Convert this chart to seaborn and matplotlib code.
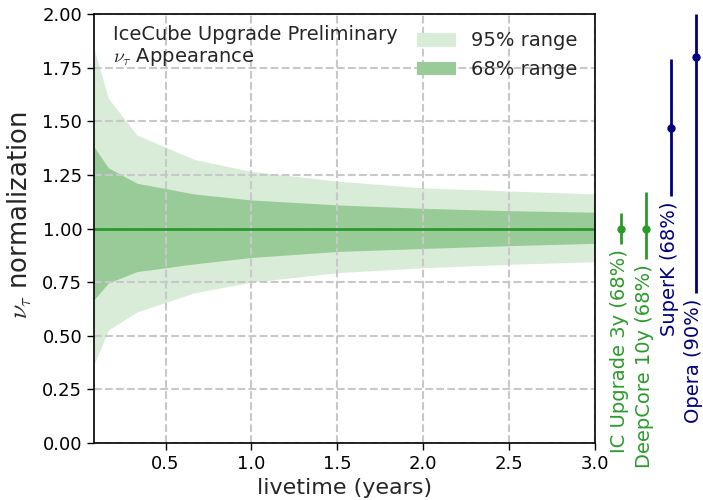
import matplotlib
matplotlib.use("Agg")
import numpy as np
import pandas as pd
import matplotlib.pyplot as plt
import seaborn as sns

# Expected sensitivity band for the nu_tau normalization vs. livetime
livetime = [1 / 12, 2 / 12, 4 / 12, 8 / 12, 1.0, 1.5, 2.0, 2.5, 3.0]
band95_hi = [1.84, 1.607, 1.436, 1.322, 1.266, 1.221, 1.189, 1.175, 1.161]
band95_lo = [0.364, 0.527, 0.611, 0.700, 0.750, 0.794, 0.817, 0.833, 0.845]
band68_hi = [1.381, 1.283, 1.211, 1.161, 1.133, 1.110, 1.094, 1.083, 1.076]
band68_lo = [0.668, 0.746, 0.799, 0.835, 0.865, 0.893, 0.907, 0.920, 0.931]
central = [1.0, 1.0, 1.0, 1.0, 1.0, 1.0, 1.0, 1.0, 1.0]

# Existing / projected measurements
experiments = ["IC Upgrade 3y (68%)", "DeepCore 10y (68%)", "SuperK (68%)", "Opera (90%)"]
exp_center = [1.0, 1.0, 1.47, 1.8]
exp_lo = [0.93, 0.857, 1.15, 0.70]
exp_hi = [1.07, 1.17, 1.79, 3.6]

# placement of the measurement markers to the right of the axes (data x units)
exp_xpos = [3.153, 3.297, 3.443, 3.586]
exp_colors = ["#2b9a2b", "#2b9a2b", "navy", "navy"]

YMIN, YMAX = 0.0, 2.0

sns.set_style("ticks")
plt.rcParams["font.family"] = ["DejaVu Sans"]
plt.rcParams["mathtext.fontset"] = "cm"

df = pd.DataFrame({"livetime": livetime, "norm": central})

fig = plt.figure(figsize=(7.03, 5.0), dpi=100)
ax = fig.add_axes([94 / 703, 57 / 500, 501 / 703, 429 / 500])

light = "#d8ecd8"
medium = "#98cb98"
ax.fill_between(livetime, band95_lo, band95_hi, color=light, lw=0, label="95% range", zorder=1)
ax.fill_between(livetime, band68_lo, band68_hi, color=medium, lw=0, label="68% range", zorder=1.2)
sns.lineplot(data=df, x="livetime", y="norm", ax=ax, color="#2b9a2b", lw=2, zorder=3)

ax.set_xlim(livetime[0], 3.0)
ax.set_ylim(YMIN, YMAX)
ax.set_xticks([0.5, 1.0, 1.5, 2.0, 2.5, 3.0])
ax.set_yticks(np.arange(0, 2.01, 0.25))
ax.tick_params(labelsize=13, length=5, width=1, colors="black")
for sp in ax.spines.values():
    sp.set_color("black")
    sp.set_linewidth(1.2)
    sp.set_zorder(4)

ax.set_axisbelow(False)
ax.grid(True, ls="--", color="#c8c8c8", lw=1.5)

ax.set_xlabel("livetime (years)", fontsize=16, labelpad=4)
ax.set_ylabel(r"$\nu_\tau$ normalization", fontsize=18.6, labelpad=6)
ax.yaxis.label.set_y(0.53)

ax.text(0.037, 0.975, "IceCube Upgrade Preliminary\n" + r"$\nu_\tau$ Appearance",
        transform=ax.transAxes, ha="left", va="top", fontsize=14, linespacing=1.15)

leg = ax.legend(loc="upper right", frameon=False, fontsize=14, handlelength=2.0)

# measurements drawn outside the axes on the same y scale
for name, xc, c, lo, hi, col in zip(experiments, exp_xpos, exp_center, exp_lo, exp_hi, exp_colors):
    hi_drawn = min(hi, YMAX)
    eb = ax.errorbar([xc], [c], yerr=[[c - lo], [hi_drawn - c]], fmt="o", color=col,
                     ms=5, elinewidth=2, capsize=0, clip_on=False, zorder=5)
    for artist in eb.lines[0:1] + tuple(eb.lines[2]):
        artist.set_clip_on(False)
    ax.annotate(name, xy=(xc, lo), xytext=(-1.2, -4), textcoords="offset points",
                rotation=90, ha="center", va="top", fontsize=14, color=col,
                annotation_clip=False)

fig.savefig("out.png", dpi=100)
